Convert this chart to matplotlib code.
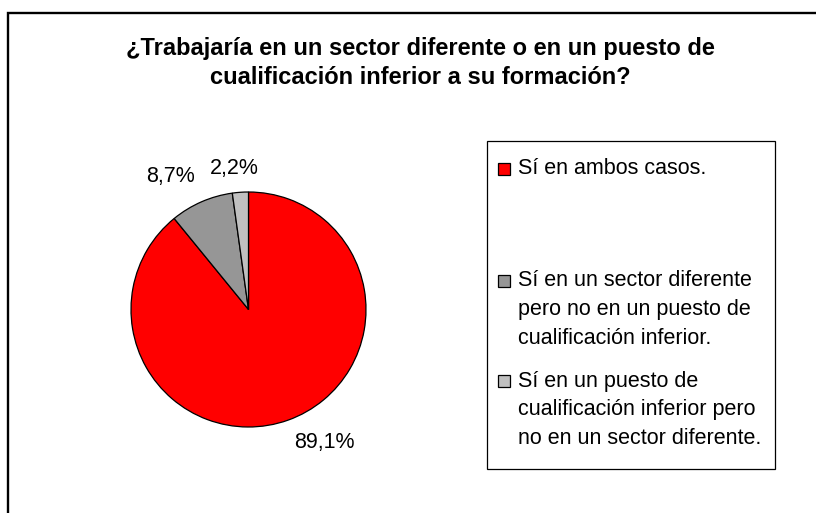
import matplotlib
matplotlib.use("Agg")
import matplotlib.pyplot as plt
from matplotlib.patches import Rectangle

plt.rcParams['font.family'] = ['Liberation Sans', 'DejaVu Sans']

# data
title = "¿Trabajaría en un sector diferente o en un puesto de\ncualificación inferior a su formación?"
categories = ["Sí en ambos casos.",
              "Sí en un sector diferente\npero no en un puesto de\ncualificación inferior.",
              "Sí en un puesto de\ncualificación inferior pero\nno en un sector diferente."]
values = [89.1, 8.7, 2.2]
pct_labels = ["89,1%", "8,7%", "2,2%"]
colors = ["#FF0000", "#969696", "#C0C0C0"]

W, H = 816, 513
fig = plt.figure(figsize=(W / 100, H / 100), dpi=100)

def fx(x):
    return x / W

def fy(y):
    return 1 - y / H

# outer frame (only top and left visible, rest runs off the image)
fig.patches.append(Rectangle((fx(8), fy(600)), fx(900), fy(13) - fy(600),
                             transform=fig.transFigure, fill=False,
                             edgecolor='black', linewidth=1.7))

fig.text(fx(420), fy(63), title, ha='center', va='center', fontsize=17,
         fontweight='bold', linespacing=1.3)

# pie
cx, cy, r = 248.5, 309.5, 117.5
ax = fig.add_axes([fx(cx - r), fy(cy + r), (2 * r) / W, (2 * r) / H])
wedges, _ = ax.pie(values, colors=colors, startangle=90, counterclock=False,
                   wedgeprops=dict(edgecolor='black', linewidth=0.9))
ax.set_xlim(-1, 1)
ax.set_ylim(-1, 1)
ax.axis('off')

# percentage labels (placed like the original export)
label_pos = [(0.65, -1.128), (-0.66, 1.128), (-0.123, 1.204)]
for txt, (lx, ly) in zip(pct_labels, label_pos):
    ax.text(lx, ly, txt, ha='center', va='center', fontsize=15.5, clip_on=False)

# legend box
box_l, box_r, box_t, box_b = 487, 775, 141, 469
fig.patches.append(Rectangle((fx(box_l), fy(box_b)), fx(box_r - box_l),
                             fy(box_t) - fy(box_b), transform=fig.transFigure,
                             fill=False, edgecolor='black', linewidth=0.9))
entry_y = [169, 281, 381]
line_gap = 29
for name, col, y0 in zip(categories, colors, entry_y):
    fig.patches.append(Rectangle((fx(498), fy(y0 + 6)), fx(12), fy(y0 - 6) - fy(y0 + 6),
                                 transform=fig.transFigure, facecolor=col,
                                 edgecolor='black', linewidth=0.9))
    for i, line in enumerate(name.split("\n")):
        fig.text(fx(518), fy(y0 + i * line_gap), line, ha='left', va='center',
                 fontsize=15.5)

fig.savefig("out.png", dpi=100)
